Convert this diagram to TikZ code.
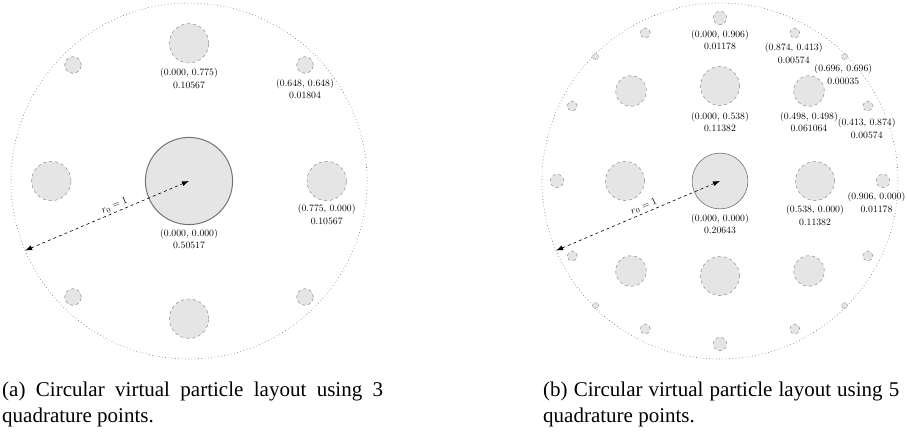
\documentclass[tikz,border=0pt]{standalone}
\usepackage{fontspec}
\newfontfamily\capfont{Liberation Serif}
\usetikzlibrary{arrows.meta}
\tikzset{
  vp/.style={circle, draw=black!45, fill=gray!20, dashed, line width=0.5pt, inner sep=0pt, outer sep=0pt},
  cp/.style={circle, draw=black!55, fill=gray!20, inner sep=0pt, outer sep=0pt},
  outerc/.style={circle, draw=black!60, dash pattern=on 0.6pt off 2.7pt, line width=0.6pt, inner sep=0pt, outer sep=0pt},
  lab/.style={font=\fontsize{9.7}{12.5}\selectfont, align=center, inner sep=0pt},
  rarrow/.style={dashed, line width=0.6pt, {Latex[length=7pt,width=5pt]}-{Latex[length=7pt,width=5pt]}},
  rlab/.style={sloped, above=1.5pt, font=\fontsize{10}{12}\selectfont, inner sep=0.5pt},
  capt/.style={font=\capfont\fontsize{21}{25}\selectfont, inner sep=0pt, anchor=base west}
}
\begin{document}
\begin{tikzpicture}[x=1pt, y=-1pt]
\useasboundingbox (0,0) rectangle (907,433);

% ---------------- panel (a) ----------------
\node[outerc, minimum size=356pt] (Ra) at (189,181) {};
\node[cp, line width=1pt, minimum size=87.2pt] (a0) at (189,181) {};
\foreach \n/\x/\y in {aN/189/43.3, aS/189/318.7, aE/326.7/181, aW/51.3/181}
  \node[vp, minimum size=39.4pt] (\n) at (\x,\y) {};
\foreach \n/\x/\y in {aNE/305/65, aNW/73/65, aSW/73/297, aSE/305/297}
  \node[vp, minimum size=16.6pt] (\n) at (\x,\y) {};

\node[lab] (laN) at (189,78.6) {(0.000, 0.775)\\0.10567};
\node[lab] (laNE) at (305,89) {(0.648, 0.648)\\0.01804};
\node[lab] (laE) at (326.7,214.6) {(0.775, 0.000)\\0.10567};
\node[lab] (la0) at (189,239) {(0.000, 0.000)\\0.50517};

\draw[rarrow] (Ra.203) -- (a0.center) node[rlab, pos=0.56] {$r_0=1$};

% ---------------- panel (b) ----------------
\node[outerc, minimum size=356pt] (Rb) at (720,181) {};
\node[cp, line width=0.6pt, minimum size=55.8pt] (b0) at (720,181) {};
\foreach \n/\x/\y in {bN/720/86, bS/720/276, bE/815/181, bW/625/181}
  \node[vp, minimum size=39pt] (\n) at (\x,\y) {};
\foreach \n/\x/\y in {bNE/809/91, bNW/631/91, bSW/631/271, bSE/809/271}
  \node[vp, minimum size=30.6pt] (\n) at (\x,\y) {};
\foreach \n/\x/\y in {oN/720/18, oS/720/344, oE/883/181, oW/557/181}
  \node[vp, minimum size=13.4pt] (\n) at (\x,\y) {};
\foreach \n/\x/\y in {pA/867.8/106, pB/572.2/106, pC/572.2/256, pD/867.8/256,
                      qA/794.8/33, qB/645.2/33, qC/645.2/329, qD/794.8/329}
  \node[vp, minimum size=10pt] (\n) at (\x,\y) {};
\foreach \n/\x/\y in {tA/844.5/56.5, tB/595.5/56.5, tC/595.5/305.5, tD/844.5/305.5}
  \node[vp, dash pattern=on 1.5pt off 1pt, minimum size=6pt] (\n) at (\x,\y) {};

\node[lab] (lbN2) at (720,40) {(0.000, 0.906)\\0.01178};
\node[lab] (lbQ) at (793.7,53.7) {(0.874, 0.413)\\0.00574};
\node[lab] (lbT) at (843.3,74.6) {(0.696, 0.696)\\0.00035};
\node[lab] (lbN) at (720,122.1) {(0.000, 0.538)\\0.11382};
\node[lab] (lbNE) at (809,122.1) {(0.498, 0.498)\\0.061064};
\node[lab] (lbP) at (866.7,128.6) {(0.413, 0.874)\\0.00574};
\node[lab] (lb0) at (720,224.1) {(0.000, 0.000)\\0.20643};
\node[lab] (lbE) at (815,215.6) {(0.538, 0.000)\\0.11382};
\node[lab] (lbE2) at (876.5,202.4) {(0.906, 0.000)\\0.01178};

\draw[rarrow] (Rb.203) -- (b0.center) node[rlab, pos=0.55] {$r_0=1$};

% ---------------- captions ----------------
\node[capt] (capa1) at (2,396.5) {\makebox[381pt][s]{(a) Circular virtual particle layout using 3}};
\node[capt] (capa2) at (2,422) {quadrature points.};
\node[capt] (capb1) at (543,396.5) {\makebox[356pt][s]{(b) Circular virtual particle layout using 5}};
\node[capt] (capb2) at (543,422) {quadrature points.};
\end{tikzpicture}
\end{document}
